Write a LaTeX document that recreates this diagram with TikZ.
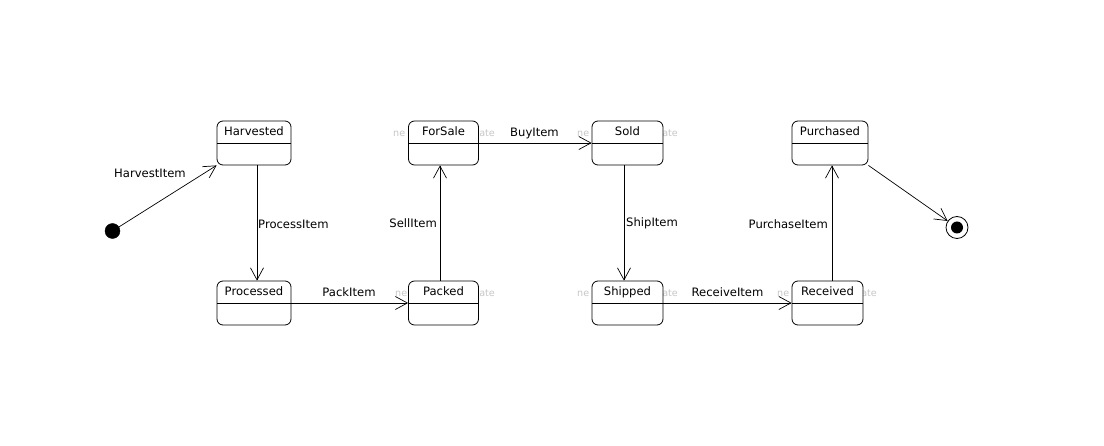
\documentclass[tikz,border=0pt]{standalone}
\usepackage{fontspec}
\setmainfont{DejaVu Sans}
\usetikzlibrary{arrows.meta}
\begin{document}
\begin{tikzpicture}[x=1pt,y=-1pt,
  state/.style={draw, rounded corners=6pt, line width=0.8pt, fill=white,
    inner xsep=2pt, inner ysep=3pt, text height=12pt, text depth=26pt,
    font=\fontsize{11.6}{13}\selectfont,
    path picture={\draw[line width=0.8pt] (path picture bounding box.west) -- (path picture bounding box.east);}},
  wmarkl/.style={text=black!22, font=\fontsize{9.6}{11}\selectfont, anchor=base west, inner sep=0pt},
  wmarkr/.style={text=black!22, font=\fontsize{9.6}{11}\selectfont, anchor=base east, inner sep=0pt},
  elabel/.style={font=\fontsize{11.6}{13}\selectfont, anchor=base, inner sep=0pt},
  trans/.style={line width=0.7pt, -{Straight Barb[length=12pt,width=13pt,line width=0.7pt]}},
  initst/.style={circle, fill=black, draw=black, minimum size=15pt, inner sep=0pt},
  finalst/.style={circle, draw=black, line width=0.8pt, fill=white, minimum size=22pt, inner sep=0pt},
  finalin/.style={circle, fill=black, minimum size=12pt, inner sep=0pt}
]
\useasboundingbox[fill=white] (0,0) rectangle (1104,446);

% faint watermark fragments beside states
\node[wmarkl] (w1a) at (393,137) {ne};
\node[wmarkr] (w1b) at (495,137) {ate};
\node[wmarkl] (w2a) at (577,137) {ne};
\node[wmarkr] (w2b) at (678,137) {ate};
\node[wmarkl] (w3a) at (395,297) {ne};
\node[wmarkr] (w3b) at (495,297) {ate};
\node[wmarkl] (w4a) at (577,297) {ne};
\node[wmarkr] (w4b) at (678,297) {ate};
\node[wmarkl] (w5a) at (777,297) {ne};
\node[wmarkr] (w5b) at (877,297) {ate};

% states
\node[state, minimum width=74pt] (harv) at (254,143) {Harvested};
\node[state, minimum width=74pt] (proc) at (254,303) {Processed};
\node[state, minimum width=70pt] (forsale) at (443.5,143) {ForSale};
\node[state, minimum width=70pt] (packed) at (443.5,303) {Packed};
\node[state, minimum width=71pt] (sold) at (627.5,143) {Sold};
\node[state, minimum width=71pt] (shipped) at (627.5,303) {Shipped};
\node[state, minimum width=76pt] (purch) at (830,143) {Purchased};
\node[state, minimum width=71pt] (recv) at (827.5,303) {Received};

\node[initst] (init) at (112.5,231) {};
\node[finalst] (final) at (957,227.5) {};
\node[finalin] (finalc) at (final.center) {};

% transitions
\draw[trans] (init) -- (harv.south west);
\draw[trans] ([xshift=3pt]harv.south) -- ([xshift=3pt]harv.south |- proc.north);
\draw[trans] (proc.east) -- (packed.west);
\draw[trans] ([xshift=-3.5pt]packed.north) -- ([xshift=-3.5pt]packed.north |- forsale.south);
\draw[trans] (forsale.east) -- (sold.west);
\draw[trans] ([xshift=-3.5pt]sold.south) -- ([xshift=-3.5pt]sold.south |- shipped.north);
\draw[trans] (shipped.east) -- (recv.west);
\draw[trans] ([xshift=4.5pt]recv.north) -- ([xshift=4.5pt]recv.north |- purch.south);
\draw[trans] (purch.south east) -- (final);

% labels
\node[elabel] (l1) at (150,178) {HarvestItem};
\node[elabel, anchor=base west] (l2) at (258,229) {ProcessItem};
\node[elabel] (l3) at (349,297) {PackItem};
\node[elabel, anchor=base east] (l4) at (437,228) {SellItem};
\node[elabel] (l5) at (534.5,137) {BuyItem};
\node[elabel, anchor=base west] (l6) at (626,227) {ShipItem};
\node[elabel] (l7) at (727.5,297) {ReceiveItem};
\node[elabel, anchor=base east] (l8) at (828,229) {PurchaseItem};
\end{tikzpicture}
\end{document}
